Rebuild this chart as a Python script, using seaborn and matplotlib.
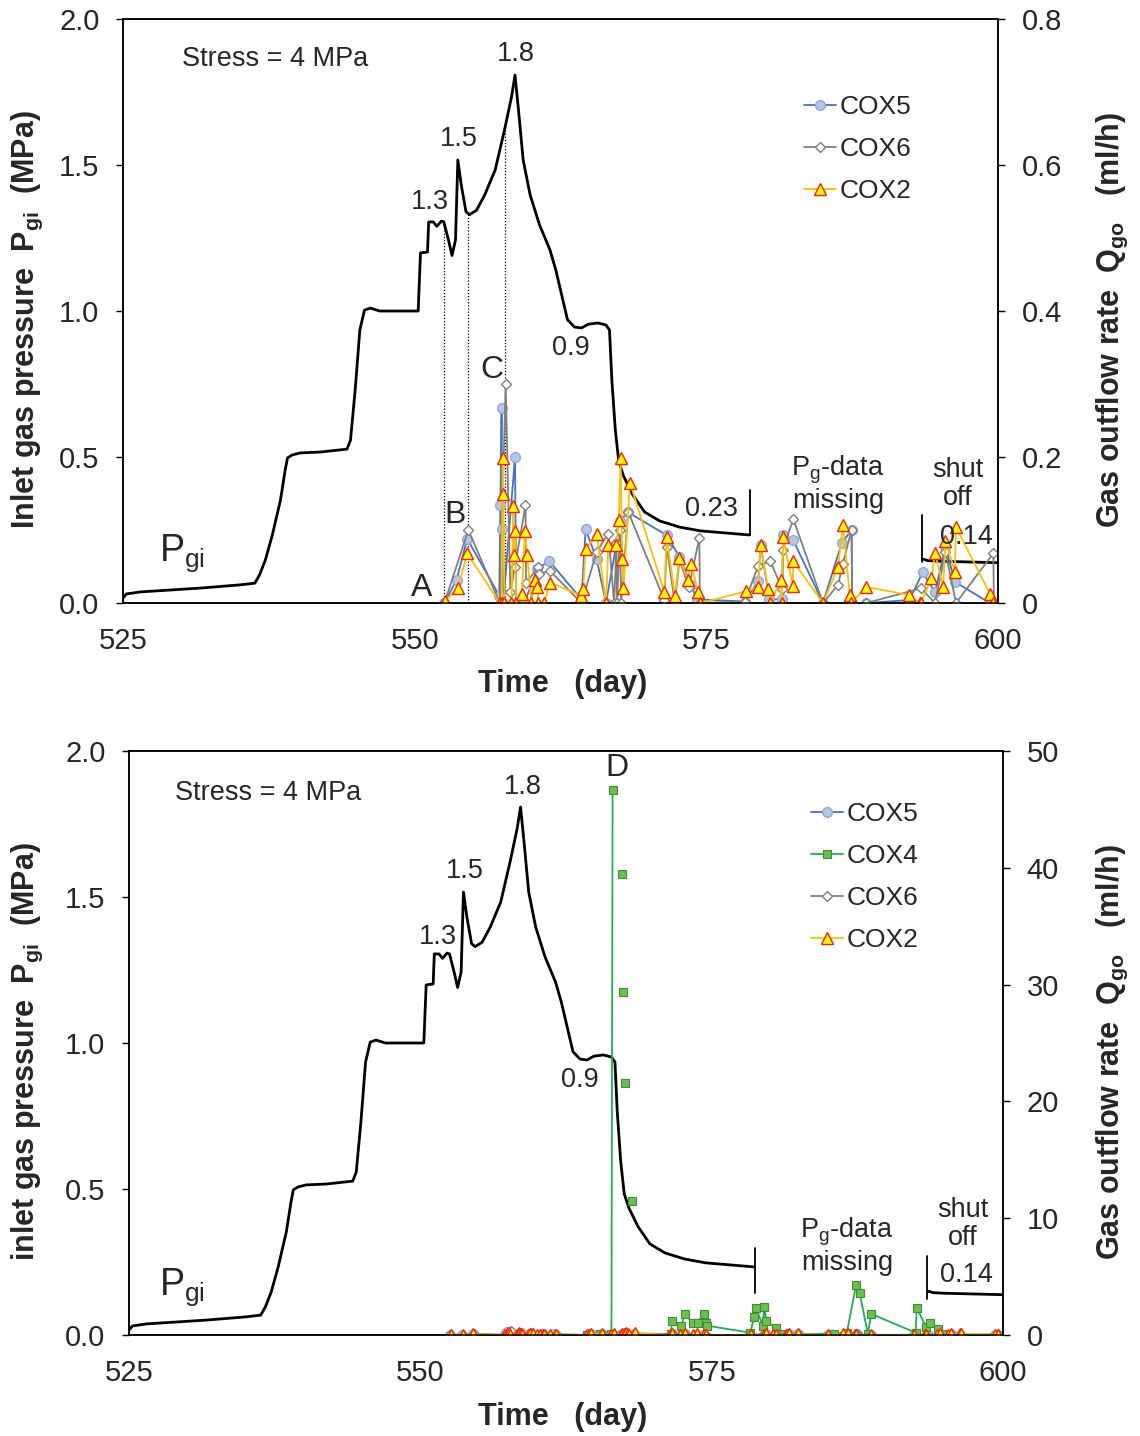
import numpy as np
import pandas as pd
import matplotlib
matplotlib.use("Agg")
import matplotlib.pyplot as plt
import seaborn as sns
from matplotlib.lines import Line2D

# ---------------- data ----------------
# inlet gas pressure (MPa) vs time (day)
p_day = [525.0, 525.3, 526.5, 531.6, 535.0, 536.3, 536.7, 537.2, 537.8, 538.5,
         538.9, 539.1, 539.5, 540.2, 541.9, 544.2, 544.5, 544.9, 545.3, 545.7,
         546.2, 547.0, 550.3, 550.5, 551.1, 551.2, 551.6, 551.9, 552.3, 552.5,
         552.9, 553.2, 553.5, 553.7, 554.0, 554.4, 554.7, 555.3, 556.0, 556.9,
         557.7, 558.3, 558.6, 558.9, 559.3, 559.9, 560.7, 561.6, 562.1, 562.7,
         563.1, 563.7, 564.3, 564.9, 565.7, 566.4, 566.7, 566.9, 567.2, 567.5,
         567.9, 568.7, 569.7, 571.0, 572.7, 574.5, 576.6, 578.7]
p_mpa = [0.017, 0.031, 0.038, 0.051, 0.062, 0.068, 0.096, 0.147, 0.233, 0.353,
         0.455, 0.497, 0.507, 0.514, 0.517, 0.527, 0.558, 0.729, 0.935, 1.003,
         1.010, 1.000, 1.000, 1.199, 1.202, 1.305, 1.305, 1.290, 1.308, 1.305,
         1.243, 1.190, 1.243, 1.517, 1.430, 1.340, 1.330, 1.345, 1.397, 1.483,
         1.620, 1.733, 1.808, 1.688, 1.517, 1.397, 1.295, 1.209, 1.140, 1.038,
         0.970, 0.945, 0.942, 0.955, 0.959, 0.952, 0.935, 0.764, 0.592, 0.483,
         0.435, 0.370, 0.312, 0.281, 0.260, 0.247, 0.240, 0.233]
# after shut off
shut_day = [593.6, 594.0, 595.0, 596.0, 597.0, 598.0, 599.0, 600.0]
shut_mpa = [0.150, 0.145, 0.143, 0.142, 0.141, 0.140, 0.139, 0.138]
# days marked by dotted lines (A, B, C)
mark_days = [552.5, 554.6, 557.7]

# gas outflow rate (ml/h)
cox5_day = [552.55, 553.6, 554.5, 557.25, 557.35, 557.45, 557.5, 557.6, 558.6, 558.7,
            559.4, 560.5, 561.5, 564.3, 564.65, 565.6, 566.4, 567.3, 567.6, 568.3,
            571.6, 572.7, 573.7, 574.2, 578.3, 579.45, 579.65, 580.4, 581.5, 581.6,
            582.45, 585.0, 586.6, 587.45, 587.5, 588.7, 592.4, 593.55, 594.6, 595.5,
            596.3, 599.3]
cox5_q = [0.0, 0.032, 0.088, 0.010, 0.134, 0.267, 0.101, 0.0, 0.200, 0.0,
          0.0, 0.046, 0.058, 0.005, 0.101, 0.060, 0.0, 0.081, 0.113, 0.124,
          0.093, 0.063, 0.024, 0.005, 0.002, 0.030, 0.080, 0.005, 0.005, 0.093,
          0.086, 0.0, 0.082, 0.100, 0.0, 0.0, 0.004, 0.042, 0.015, 0.077,
          0.029, 0.0]

cox6_day = [552.55, 554.6, 557.3, 557.8, 558.2, 558.6, 559.5, 559.55, 560.6, 560.65,
            561.6, 564.3, 565.6, 566.6, 567.1, 567.3, 567.35, 567.6, 567.7, 568.3,
            571.4, 571.6, 572.3, 572.7, 573.5, 574.4, 574.45, 578.3, 579.45, 580.5,
            581.5, 581.55, 582.45, 585.0, 586.3, 586.7, 587.45, 587.5, 588.7, 593.4,
            594.6, 595.5, 596.4, 599.6, 599.65]
cox6_q = [0.0, 0.100, 0.0, 0.300, 0.015, 0.050, 0.134, 0.027, 0.050, 0.040,
          0.044, 0.0, 0.070, 0.095, 0.0, 0.082, 0.0, 0.100, 0.0, 0.125,
          0.004, 0.077, 0.0, 0.059, 0.022, 0.089, 0.0, 0.002, 0.051, 0.057,
          0.019, 0.073, 0.115, 0.0, 0.025, 0.054, 0.100, 0.0, 0.0, 0.020,
          0.0, 0.070, 0.0, 0.068, 0.0]

cox2_day = [552.6, 553.7, 554.5, 557.3, 557.45, 557.55, 557.6, 557.7, 558.3, 558.45,
            558.5, 558.6, 558.7, 559.2, 559.45, 559.65, 560.0, 560.3, 560.5, 560.6,
            561.1, 561.6, 564.3, 564.45, 564.65, 565.6, 566.4, 566.6, 567.3, 567.5,
            567.65, 567.8, 567.9, 568.45, 571.4, 571.6, 572.3, 572.7, 573.4, 573.7,
            574.3, 574.5, 578.4, 579.45, 579.65, 580.3, 580.5, 581.4, 581.45, 581.6,
            582.4, 582.45, 585.0, 586.3, 586.7, 587.3, 587.4, 588.7, 592.4, 593.3,
            593.4, 594.3, 594.6, 595.3, 595.5, 596.3, 596.4, 599.3, 599.6]
cox2_q = [0.003, 0.020, 0.068, 0.0, 0.0, 0.198, 0.149, 0.0, 0.0, 0.133,
          0.066, 0.099, 0.0, 0.013, 0.099, 0.066, 0.0, 0.032, 0.022, 0.0,
          0.0, 0.028, 0.010, 0.019, 0.074, 0.094, 0.0, 0.079, 0.080, 0.114,
          0.198, 0.060, 0.020, 0.165, 0.015, 0.091, 0.010, 0.062, 0.032, 0.054,
          0.015, 0.0, 0.016, 0.022, 0.079, 0.019, 0.0, 0.032, 0.0, 0.090,
          0.023, 0.057, 0.0, 0.050, 0.107, 0.011, 0.0, 0.022, 0.011, 0.0,
          0.0, 0.034, 0.069, 0.022, 0.085, 0.043, 0.104, 0.013, 0.0]

cox4_day = [564.3, 565.4, 566.4, 566.5, 567.3, 567.4, 567.6, 568.2,
            571.5, 571.6, 572.4, 572.7, 573.4, 573.8, 574.3, 574.5, 574.6, 578.3,
            578.65, 578.8, 579.4, 579.5, 579.7, 580.5, 580.9, 585.5, 586.6, 587.4,
            587.7, 588.4, 588.7, 592.5, 592.6, 593.4, 593.7, 594.4, 594.8]
cox4_q = [0.0, 0.05, 0.1, 46.7, 39.5, 29.4, 21.6, 11.5,
          0.05, 1.2, 0.8, 1.8, 1.0, 1.05, 1.8, 1.0, 0.8, 0.2,
          1.5, 2.3, 0.8, 2.4, 1.2, 0.6, 0.1, 0.1, 0.2, 4.3,
          3.6, 0.1, 1.8, 0.2, 2.3, 0.7, 1.05, 0.5, 0.1]
cox4_seg = [0, 0, 0, 0, 1, 2, 3, 4,
            5, 5, 5, 5, 5, 5, 5, 5, 5, 5,
            5, 5, 5, 5, 5, 5, 5, 5, 5, 5,
            5, 5, 5, 5, 5, 5, 5, 5, 5]

# ---------------- style ----------------
sns.set_style("white")
FONT = ["Liberation Sans", "DejaVu Sans"]
plt.rcParams["font.family"] = FONT
plt.rcParams["mathtext.fontset"] = "custom"
plt.rcParams["mathtext.rm"] = "Liberation Sans"
plt.rcParams["mathtext.it"] = "Liberation Sans:italic"
plt.rcParams["mathtext.bf"] = "Liberation Sans:bold"

W, H = 1140, 1436
fig = plt.figure(figsize=(W / 100, H / 100), dpi=100)


def fx(x, y):
    return x / W, 1 - y / H


STY = {
    "COX5": dict(color="#4472C4", marker="o", markersize=7, markerfacecolor="#B4C7E7",
                 markeredgecolor="#8EA9DB", markeredgewidth=1.0, linewidth=1.3),
    "COX6": dict(color="#7F7F7F", marker="D", markersize=5.5, markerfacecolor="white",
                 markeredgecolor="#7F7F7F", markeredgewidth=1.0, linewidth=1.3),
    "COX2": dict(color="#FFC000", marker="^", markersize=8.5, markerfacecolor="#FFFF00",
                 markeredgecolor="#FF2000", markeredgewidth=1.0, linewidth=1.3),
    "COX4": dict(color="#1FAF55", marker="s", markersize=6, markerfacecolor="#6CC04A",
                 markeredgecolor="#3C8C3C", markeredgewidth=0.8, linewidth=1.3),
}


def base_axes(rect, rmax, rticks, rlabels):
    ax = fig.add_axes(rect)
    ax2 = ax.twinx()
    ax.set_xlim(525, 600)
    ax.set_ylim(0, 2.0)
    ax.set_xticks([525, 550, 575, 600])
    ax.set_yticks([0, 0.5, 1.0, 1.5, 2.0])
    ax.set_yticklabels(["0.0", "0.5", "1.0", "1.5", "2.0"])
    ax2.set_ylim(0, rmax)
    ax2.set_yticks(rticks)
    ax2.set_yticklabels(rlabels)
    for a in (ax, ax2):
        a.tick_params(axis="both", direction="out", length=5, width=1.0,
                      labelsize=21, pad=12, color="black")
        for s in a.spines.values():
            s.set_color("black")
            s.set_linewidth(1.1)
        a.set_xlabel("")
        a.set_ylabel("")
    ax.grid(False)
    ax2.grid(False)
    return ax, ax2


def draw_pressure(ax, end_mark, shut_mark):
    sns.lineplot(x=p_day, y=p_mpa, ax=ax, color="black", linewidth=2.0,
                 sort=False, estimator=None)
    sns.lineplot(x=shut_day, y=shut_mpa, ax=ax, color="black", linewidth=2.0,
                 sort=False, estimator=None)
    ax.plot([p_day[-1], p_day[-1]], end_mark, color="black", linewidth=1.3)
    ax.plot([shut_day[0] - 0.1, shut_day[0] - 0.1], shut_mark, color="black", linewidth=1.3)


def draw_series(ax2, name, days, q):
    sns.lineplot(x=days, y=q, ax=ax2, sort=False, estimator=None, **STY[name])


LEG = dict(loc="upper left", bbox_transform=fig.transFigure, frameon=False,
           fontsize=19, handlelength=1.2, handletextpad=0.15, labelspacing=0.68,
           borderaxespad=0, borderpad=0)

# ---------------- top panel ----------------
ax, ax2 = base_axes([123 / W, 1 - 603 / H, 875 / W, 584 / H], 0.8,
                    [0, 0.2, 0.4, 0.6, 0.8], ["0", "0.2", "0.4", "0.6", "0.8"])
draw_pressure(ax, [0.233, 0.387], [0.141, 0.301])
for d in mark_days:
    ax.plot([d, d], [0, np.interp(d, p_day, p_mpa)], color="black",
            linestyle=(0, (1, 1.5)), linewidth=0.9)
draw_series(ax2, "COX5", cox5_day, cox5_q)
draw_series(ax2, "COX6", cox6_day, cox6_q)
draw_series(ax2, "COX2", cox2_day, cox2_q)
ax2.set_ylabel("")
handles = [Line2D([], [], **STY[n]) for n in ["COX5", "COX6", "COX2"]]
ax2.legend(handles, ["COX5", "COX6", "COX2"], bbox_to_anchor=fx(804, 95), **LEG)

# ---------------- bottom panel ----------------
bx, bx2 = base_axes([129 / W, 1 - 1335 / H, 874 / W, 584 / H], 50,
                    [0, 10, 20, 30, 40, 50], ["0", "10", "20", "30", "40", "50"])
draw_pressure(bx, [0.143, 0.297], [0.123, 0.27])
draw_series(bx2, "COX5", cox5_day, cox5_q)
df4 = pd.DataFrame({"day": cox4_day, "q": cox4_q, "seg": cox4_seg})
sns.lineplot(data=df4, x="day", y="q", units="seg", estimator=None, sort=False,
             ax=bx2, **STY["COX4"])
draw_series(bx2, "COX6", cox6_day, cox6_q)
draw_series(bx2, "COX2", cox2_day, cox2_q)
bx2.set_ylabel("")
bx.set_xlabel("")
bx2.set_xlabel("")
handles = [Line2D([], [], **STY[n]) for n in ["COX5", "COX4", "COX6", "COX2"]]
bx2.legend(handles, ["COX5", "COX4", "COX6", "COX2"], bbox_to_anchor=fx(811, 802), **LEG)

# ---------------- axis titles ----------------
for yc in (684, 1417):
    fig.text(*fx(563, yc), "Time   (day)", ha="center", va="center",
             fontsize=22, fontweight="bold")
fig.text(*fx(27, 320), r"Inlet gas pressure  P$_{\mathbf{gi}}$  (MPa)", rotation=90,
         ha="center", va="center", fontsize=22, fontweight="bold")
fig.text(*fx(27, 1052), r"inlet gas pressure  P$_{\mathbf{gi}}$  (MPa)", rotation=90,
         ha="center", va="center", fontsize=22, fontweight="bold")
fig.text(*fx(1112, 320), r"Gas outflow rate  Q$_{\mathbf{go}}$   (ml/h)", rotation=90,
         ha="center", va="center", fontsize=22, fontweight="bold")
fig.text(*fx(1112, 1052), r"Gas outflow rate  Q$_{\mathbf{go}}$   (ml/h)", rotation=90,
         ha="center", va="center", fontsize=22, fontweight="bold")

# ---------------- annotations ----------------
ANN = 19.5
top_notes = [
    (275, 59, "Stress = 4 MPa"), (430, 202, "1.3"), (459, 139, "1.5"),
    (516, 54, "1.8"), (571, 348, "0.9"), (711, 509, "0.23"),
    (422, 588, "A"), (455, 515, "B"), (492, 370, "C"),
    (838, 484, "P$_{\\rm g}$-data\nmissing"), (958, 484, "shut\noff"),
    (966, 537, "0.14"),
]
bot_notes = [
    (268, 793, "Stress = 4 MPa"), (438, 937, "1.3"), (465, 871, "1.5"),
    (523, 787, "1.8"), (580, 1080, "0.9"), (617, 768, "D"),
    (847, 1246, "P$_{\\rm g}$-data\nmissing"), (963, 1224, "shut\noff"),
    (966, 1275, "0.14"),
]
for x, y, t in top_notes + bot_notes:
    fs = 23 if t in ("A", "B", "C", "D") else ANN
    fig.text(*fx(x, y), t, ha="center", va="center", fontsize=fs,
             linespacing=1.1)
fig.text(*fx(182, 553), "P$_{\\rm gi}$", ha="center", va="center", fontsize=27)
fig.text(*fx(182, 1287), "P$_{\\rm gi}$", ha="center", va="center", fontsize=27)

fig.savefig("out.png", dpi=100)
